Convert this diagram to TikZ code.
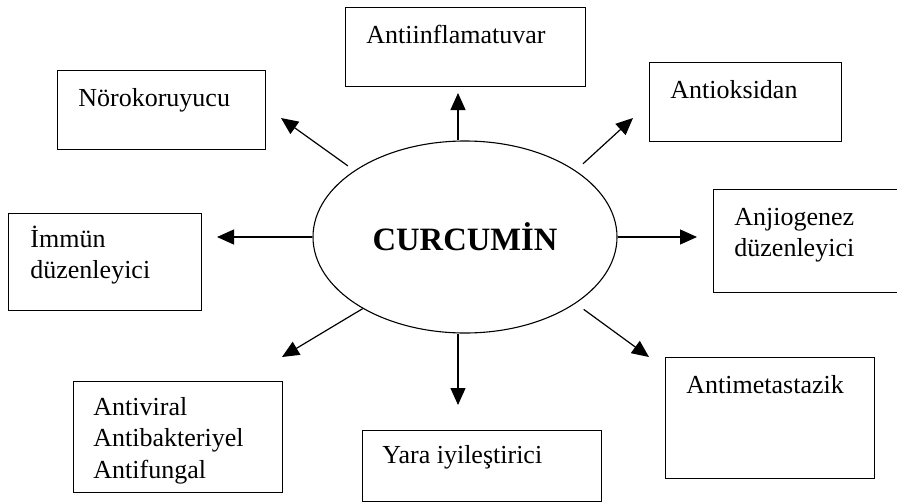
\documentclass[tikz,border=0pt]{standalone}
\usepackage{fontspec}
\setmainfont{Liberation Serif}
\usetikzlibrary{arrows.meta,shapes.geometric}
\tikzset{
  kutu/.style={draw, line width=0.7pt, inner sep=0pt, anchor=north west},
  yazi/.style={anchor=base west, inner sep=0pt, font=\fontsize{13}{15.75}\selectfont},
  ok/.style={-{Triangle[length=8.5pt,width=7.5pt]}, line width=0.6pt},
}
\begin{document}
\begin{tikzpicture}[x=0.5pt,y=-0.5pt]
        \useasboundingbox (0,0) rectangle (897,503);
        % merkez
        \node[draw, ellipse, line width=0.55pt, minimum width=152pt, minimum height=96pt,
              font=\fontsize{16.3}{19}\selectfont\bfseries] (cur) at (465,237) {CURCUMİN};
        % kutular
        \node[kutu, minimum width=104pt, minimum height=39.5pt] (noro) at (57,70) {};
        \node[yazi] (norot) at (78,106) {Nörokoruyucu};
        \node[kutu, minimum width=120pt, minimum height=39.5pt] (inf) at (345,7) {};
        \node[yazi] (inft) at (366,43) {Antiinflamatuvar};
        \node[kutu, minimum width=96pt, minimum height=39.5pt] (oks) at (649,62) {};
        \node[yazi] (okst) at (670,98) {Antioksidan};
        \node[kutu, minimum width=96pt, minimum height=51.5pt] (anj) at (713,189) {};
        \node[yazi] (anjt) at (734,225) {\begin{tabular}[t]{@{}l@{}}Anjiogenez\\düzenleyici\end{tabular}};
        \node[kutu, minimum width=96.5pt, minimum height=48.5pt] (imm) at (8,213) {};
        \node[yazi] (immt) at (30,247) {\begin{tabular}[t]{@{}l@{}}İmmün\\düzenleyici\end{tabular}};
        \node[kutu, minimum width=104.5pt, minimum height=55.5pt] (vir) at (73,381) {};
        \node[yazi] (virt) at (93,415) {\begin{tabular}[t]{@{}l@{}}Antiviral\\Antibakteriyel\\Antifungal\end{tabular}};
        \node[kutu, minimum width=119.5pt, minimum height=35.5pt] (yar) at (362,430) {};
        \node[yazi] (yart) at (382,463) {Yara iyileştirici};
        \node[kutu, minimum width=104.5pt, minimum height=60.5pt] (met) at (665,357) {};
        \node[yazi] (mett) at (686,393) {Antimetastazik};
        % oklar
        \coordinate (uNoro) at (281,118);
        \coordinate (uInf) at (458,93);
        \coordinate (uOks) at (633,118);
        \coordinate (uAnj) at (697,237);
        \coordinate (uImm) at (217,237);
        \coordinate (uVir) at (282,357);
        \coordinate (uYar) at (458,405);
        \coordinate (uMet) at (649,357);
        \draw[ok, shorten <=4pt] (cur.149) -- (uNoro);
        \draw[ok] (uInf |- cur.north) -- (uInf);
        \draw[ok, shorten <=5pt] (cur.31) -- (uOks);
        \draw[ok] (cur.east) -- (uAnj);
        \draw[ok] (cur.west) -- (uImm);
        \draw[ok] (cur.215) -- (uVir);
        \draw[ok] (uYar |- cur.south) -- (uYar);
        \draw[ok, shorten <=5pt] (cur.329) -- (uMet);
\end{tikzpicture}
\end{document}
